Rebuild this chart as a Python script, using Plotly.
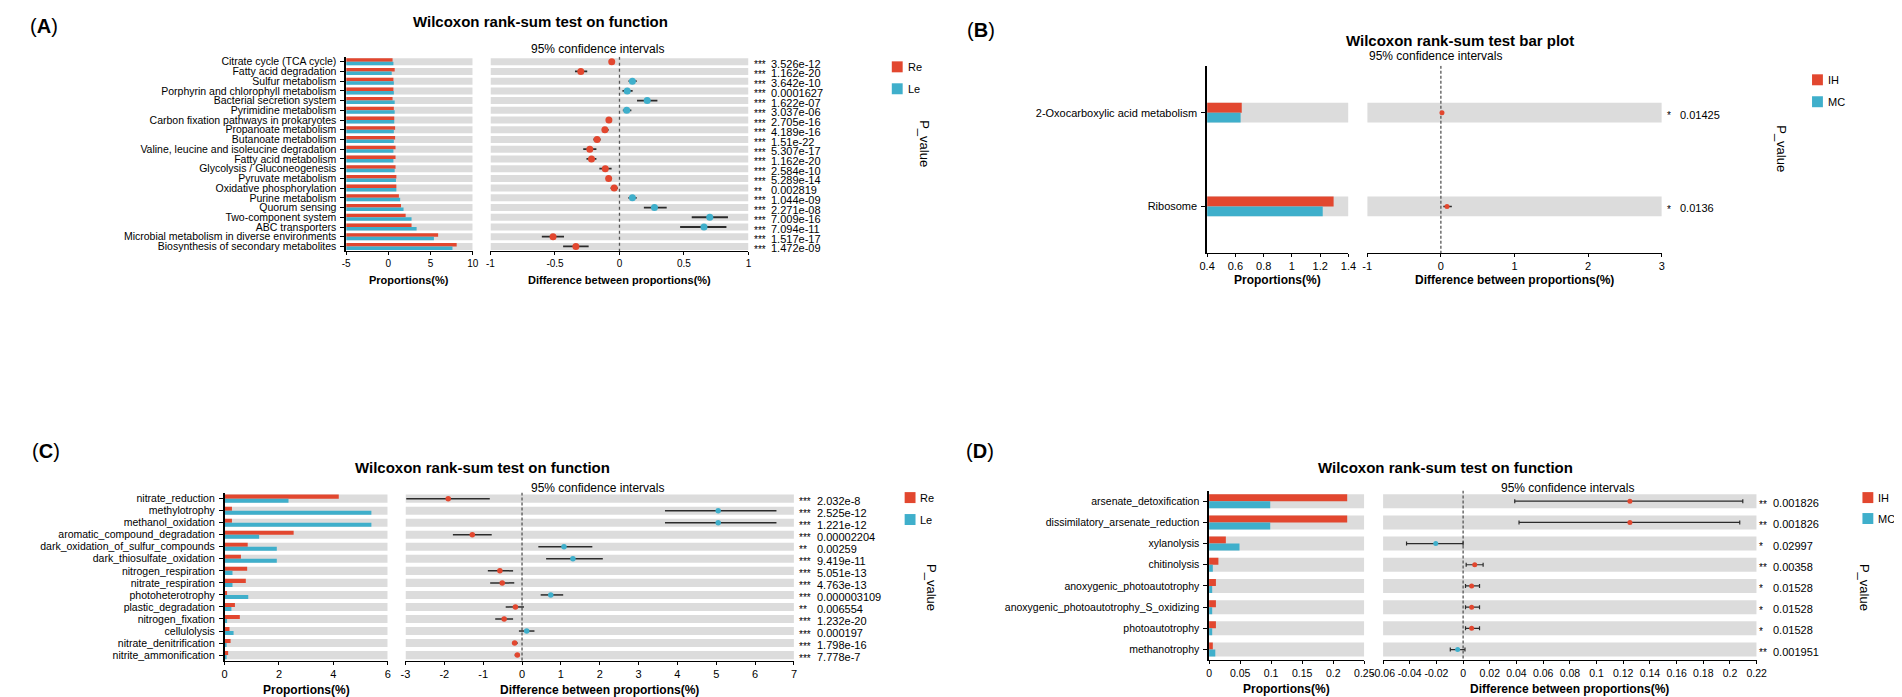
import plotly.graph_objects as go

W, H = 1902, 697
FONT = "Liberation Sans, Arial, Helvetica, sans-serif"
RED = "#E2472F"
TEAL = "#3FAFCB"
BAND = "#DCDCDC"

# ---------------- panel A : Re vs Le, KEGG pathways
a_funcs = ["Citrate cycle (TCA cycle)", "Fatty acid degradation", "Sulfur metabolism",
           "Porphyrin and chlorophyll metabolism", "Bacterial secretion system",
           "Pyrimidine metabolism", "Carbon fixation pathways in prokaryotes",
           "Propanoate metabolism", "Butanoate metabolism",
           "Valine, leucine and isoleucine degradation", "Fatty acid metabolism",
           "Glycolysis / Gluconeogenesis", "Pyruvate metabolism", "Oxidative phosphorylation",
           "Purine metabolism", "Quorum sensing", "Two-component system", "ABC transporters",
           "Microbial metabolism in diverse environments", "Biosynthesis of secondary metabolites"]
a_re = [0.5, 0.75, 0.6, 0.6, 0.5, 0.65, 0.7, 0.8, 0.8, 0.85, 0.85, 0.85, 0.95, 0.95,
        1.25, 1.5, 2.05, 2.75, 5.9, 8.1]
a_le = [0.6, 0.4, 0.65, 0.65, 0.75, 0.75, 0.7, 0.65, 0.65, 0.6, 0.6, 0.75, 0.9, 0.95,
        1.4, 1.8, 2.75, 3.35, 5.4, 7.6]
a_diff = [-0.06, -0.3, 0.1, 0.06, 0.215, 0.056, -0.082, -0.113, -0.174, -0.23, -0.217,
          -0.11, -0.084, -0.041, 0.1, 0.271, 0.7, 0.655, -0.515, -0.338]
a_lo = [-0.07, -0.345, 0.07, 0.023, 0.136, 0.026, -0.097, -0.136, -0.202, -0.281, -0.256,
        -0.156, -0.105, -0.069, 0.069, 0.189, 0.56, 0.47, -0.602, -0.437]
a_hi = [-0.05, -0.25, 0.133, 0.102, 0.294, 0.092, -0.066, -0.084, -0.146, -0.179, -0.179,
        -0.061, -0.064, -0.013, 0.133, 0.366, 0.841, 0.829, -0.43, -0.239]
a_stars = ["***"] * 13 + ["**"] + ["***"] * 6
a_p = ["3.526e-12", "1.162e-20", "3.642e-10", "0.0001627", "1.622e-07", "3.037e-06",
       "2.705e-16", "4.189e-16", "1.51e-22", "5.307e-17", "1.162e-20", "2.584e-10",
       "5.289e-14", "0.002819", "1.044e-09", "2.271e-08", "7.009e-16", "7.094e-11",
       "1.517e-17", "1.472e-09"]

# ---------------- panel B : IH vs MC
b_funcs = ["2-Oxocarboxylic acid metabolism", "Ribosome"]
b_ih = [0.645, 1.295]
b_mc = [0.637, 1.218]
b_diff = [0.015, 0.083]
b_lo = [0.005, 0.033]
b_hi = [0.025, 0.149]
b_stars = ["*", "*"]
b_p = ["0.01425", "0.0136"]

# ---------------- panel C : Re vs Le, FAPROTAX functions
c_funcs = ["nitrate_reduction", "methylotrophy", "methanol_oxidation",
           "aromatic_compound_degradation", "dark_oxidation_of_sulfur_compounds",
           "dark_thiosulfate_oxidation", "nitrogen_respiration", "nitrate_respiration",
           "photoheterotrophy", "plastic_degradation", "nitrogen_fixation", "cellulolysis",
           "nitrate_denitrification", "nitrite_ammonification"]
c_re = [4.2, 0.27, 0.27, 2.54, 0.85, 0.6, 0.83, 0.78, 0.09, 0.38, 0.56, 0.18, 0.22, 0.13]
c_le = [2.35, 5.4, 5.4, 1.27, 1.92, 1.92, 0.29, 0.29, 0.87, 0.25, 0.09, 0.33, 0.07, 0.04]
c_diff = [-1.9, 5.05, 5.05, -1.28, 1.08, 1.31, -0.57, -0.51, 0.74, -0.17, -0.46, 0.12,
          -0.19, -0.12]
c_lo = [-2.98, 3.68, 3.68, -1.78, 0.42, 0.62, -0.88, -0.82, 0.48, -0.42, -0.69, -0.08,
        -0.26, -0.19]
c_hi = [-0.83, 6.55, 6.55, -0.78, 1.81, 2.08, -0.23, -0.2, 1.06, 0.05, -0.23, 0.32,
        -0.11, -0.06]
c_stars = ["***", "***", "***", "***", "**", "***", "***", "***", "***", "**", "***",
           "***", "***", "***"]
c_p = ["2.032e-8", "2.525e-12", "1.221e-12", "0.00002204", "0.00259", "9.419e-11",
       "5.051e-13", "4.763e-13", "0.000003109", "0.006554", "1.232e-20", "0.000197",
       "1.798e-16", "7.778e-7"]

# ---------------- panel D : IH vs MC, FAPROTAX functions
d_funcs = ["arsenate_detoxification", "dissimilatory_arsenate_reduction", "xylanolysis",
           "chitinolysis", "anoxygenic_photoautotrophy",
           "anoxygenic_photoautotrophy_S_oxidizing", "photoautotrophy", "methanotrophy"]
d_ih = [0.2225, 0.2225, 0.027, 0.015, 0.011, 0.011, 0.011, 0.006]
d_mc = [0.0985, 0.0985, 0.049, 0.006, 0.005, 0.005, 0.005, 0.01]
d_diff = [0.125, 0.125, -0.0205, 0.0087, 0.0064, 0.0064, 0.0064, -0.0041]
d_lo = [0.0387, 0.0419, -0.0424, 0.0023, 0.0018, 0.0018, 0.0018, -0.0096]
d_hi = [0.2096, 0.2073, 0.0, 0.015, 0.0123, 0.0123, 0.0123, 0.0014]
d_stars = ["**", "**", "*", "**", "*", "*", "*", "**"]
d_p = ["0.001826", "0.001826", "0.02997", "0.00358", "0.01528", "0.01528", "0.01528",
       "0.001951"]


def px(x):
    return x / W


def py(y):
    return 1 - y / H


def ref(axis, i):
    return axis if i == 1 else f"{axis}{i}"


def lay_key(axis, i):
    return f"{axis}axis" if i == 1 else f"{axis}axis{i}"


fig = go.Figure()
layout = {}
notes = []
shapes = []


def note(x, y, text, size, xanchor="center", yanchor="middle", angle=0,
         xref="paper", yref="paper", yshift=0):
    notes.append(dict(x=px(x) if xref == "paper" else x,
                      y=py(y) if yref == "paper" else y,
                      xref=xref, yref=yref, text=text, showarrow=False,
                      xanchor=xanchor, yanchor=yanchor, textangle=angle, yshift=yshift,
                      font=dict(size=size, color="black", family=FONT)))


def add_panel(k, cats, g1, g2, diff, lo, hi, stars, pvals, names, pos_color, cfg):
    li, ri = 2 * k + 1, 2 * k + 2
    n = len(cats)
    rows = list(range(n))
    xl0, xl1 = cfg["lrange"]
    xr0, xr1 = cfg["rrange"]
    bw = cfg["band"]
    lref = dict(xaxis=ref("x", li), yaxis=ref("y", li))
    rref = dict(xaxis=ref("x", ri), yaxis=ref("y", ri))
    common = dict(orientation="h", hoverinfo="skip", showlegend=False)

    # left: proportions of each group
    fig.add_trace(go.Bar(y=rows, x=[xl1 - xl0] * n, base=xl0, width=bw, offset=-bw / 2,
                         marker=dict(color=BAND, line_width=0), **common, **lref))
    fig.add_trace(go.Bar(y=rows, x=[v - xl0 for v in g1], base=xl0, width=bw / 2,
                         offset=-bw / 2, marker=dict(color=RED, line_width=0),
                         name=names[0], **common, **lref))
    fig.add_trace(go.Bar(y=rows, x=[v - xl0 for v in g2], base=xl0, width=bw / 2,
                         offset=0, marker=dict(color=TEAL, line_width=0),
                         name=names[1], **common, **lref))

    # right: difference with 95% CI
    fig.add_trace(go.Bar(y=rows, x=[xr1 - xr0] * n, base=xr0, width=bw, offset=-bw / 2,
                         marker=dict(color=BAND, line_width=0), **common, **rref))
    fig.add_trace(go.Scatter(x=[0, 0], y=[-0.5, n - 0.5], mode="lines", hoverinfo="skip",
                             line=dict(color="#555555", width=1.3, dash=cfg["dash"]),
                             showlegend=False, **rref))
    neg_color = TEAL if pos_color == RED else RED
    colors = [pos_color if d > 0 else neg_color for d in diff]
    fig.add_trace(go.Scatter(
        x=diff, y=rows, mode="markers", hoverinfo="skip", showlegend=False,
        marker=dict(color=colors, size=cfg["dot"], line_width=0),
        error_x=dict(type="data", symmetric=False,
                     array=[h - d for d, h in zip(diff, hi)],
                     arrayminus=[d - l for d, l in zip(diff, lo)],
                     color="#2b2b2b", thickness=cfg["ebw"], width=cfg["cap"]),
        **rref))

    dom_y = [py(cfg["bottom"]), py(cfg["top"])]
    tfont = dict(size=cfg["tick"], color="black", family=FONT)
    xcommon = dict(ticks="outside", ticklen=3, tickcolor="black", showline=True,
                   linecolor="black", linewidth=1, showgrid=False, zeroline=False,
                   tickfont=tfont, fixedrange=True)
    layout[lay_key("x", li)] = dict(domain=[px(cfg["lpx"][0]), px(cfg["lpx"][1])],
                                    anchor=ref("y", li), range=[xl0, xl1],
                                    tickvals=cfg["lticks"],
                                    ticktext=[f"{v:g}" for v in cfg["lticks"]], **xcommon)
    layout[lay_key("x", ri)] = dict(domain=[px(cfg["rpx"][0]), px(cfg["rpx"][1])],
                                    anchor=ref("y", ri), range=[xr0, xr1],
                                    tickvals=cfg["rticks"],
                                    ticktext=[f"{v:g}" for v in cfg["rticks"]], **xcommon)
    layout[lay_key("y", li)] = dict(domain=dom_y, anchor=ref("x", li), range=[n - 0.5, -0.5],
                                    tickvals=rows, ticktext=cats, ticks="outside", ticklen=4,
                                    tickcolor="black", showline=True, linecolor="black",
                                    linewidth=1.5, showgrid=False, zeroline=False,
                                    ticklabelstandoff=2,
                                    tickfont=dict(size=cfg["label"], color="black",
                                                  family=FONT), fixedrange=True)
    layout[lay_key("y", ri)] = dict(domain=dom_y, anchor=ref("x", ri), range=[n - 0.5, -0.5],
                                    visible=False, fixedrange=True)

    # texts
    lx, ly = cfg["label_xy"]
    note(lx, ly, f"(<b>{cfg['tag']}</b>)", 20, xanchor="left")
    note(cfg["title_xy"][0], cfg["title_xy"][1], f"<b>{cfg['title']}</b>", 15)
    note(cfg["ci_xy"][0], cfg["ci_xy"][1], "95% confidence intervals", 12)
    axis_y = cfg["axis_title_y"]
    note(sum(cfg["lpx"]) / 2, axis_y, "<b>Proportions(%)</b>", cfg["axis_title"])
    note(sum(cfg["rpx"]) / 2, axis_y, "<b>Difference between proportions(%)</b>",
         cfg["axis_title"])
    for r, s, p in zip(rows, stars, pvals):
        note(cfg["star_x"], r, s, cfg["pfont"] - 1, xanchor="left", yref=ref("y", ri),
             yshift=-3)
        note(cfg["p_x"], r, p, cfg["pfont"], xanchor="left", yref=ref("y", ri), yshift=-2)
    # legend keys
    for name, color, yk in zip(names, [RED, TEAL], cfg["legend_y"]):
        x0 = cfg["legend_x"]
        shapes.append(dict(type="rect", xref="paper", yref="paper",
                           x0=px(x0), x1=px(x0 + 11), y0=py(yk + 5.5), y1=py(yk - 5.5),
                           fillcolor=color, line_width=0))
        note(x0 + 14, yk, name, 11, xanchor="left")
    note(cfg["pv_xy"][0], cfg["pv_xy"][1], "P_value", 13, angle=90)


cfg_a = dict(tag="A", title="Wilcoxon rank-sum test on function", label_xy=(8, 17),
             title_xy=(527, 13), ci_xy=(584, 40), lpx=(330, 458), rpx=(476, 737),
             top=48, bottom=243, lrange=(-5, 10), rrange=(-1, 1),
             lticks=[-5, 0, 5, 10], rticks=[-1, -0.5, 0, 0.5, 1], band=0.72, dot=7,
             ebw=1.8, cap=0, dash="dot", tick=10, label=10.5, axis_title=11,
             axis_title_y=272, star_x=741, p_x=758, pfont=11, legend_x=882,
             legend_y=(58, 80), pv_xy=(915, 135))
cfg_b = dict(tag="B", title="Wilcoxon rank-sum test bar plot", label_xy=(956, 21),
             title_xy=(1457, 32), ci_xy=(1432, 47), lpx=(1201, 1344), rpx=(1363, 1661),
             top=57, bottom=245, lrange=(0.4, 1.4), rrange=(-1, 3),
             lticks=[0.4, 0.6, 0.8, 1, 1.2, 1.4], rticks=[-1, 0, 1, 2, 3], band=0.21,
             dot=5, ebw=1.5, cap=0, dash="3px,2px", tick=11, label=11, axis_title=12,
             axis_title_y=272, star_x=1664, p_x=1677, pfont=11, legend_x=1813,
             legend_y=(71, 93), pv_xy=(1782, 140))
cfg_c = dict(tag="C", title="Wilcoxon rank-sum test on function", label_xy=(10, 443),
             title_xy=(468, 460), ci_xy=(584, 480), lpx=(207, 372), rpx=(390, 783),
             top=485, bottom=654, lrange=(0, 6), rrange=(-3, 7),
             lticks=[0, 2, 4, 6], rticks=list(range(-3, 8)), band=0.67, dot=5.5,
             ebw=1.5, cap=0, dash="3px,2px", tick=11, label=10.5, axis_title=12,
             axis_title_y=683, star_x=786, p_x=804, pfont=11, legend_x=895,
             legend_y=(490, 512), pv_xy=(922, 580))
cfg_d = dict(tag="D", title="Wilcoxon rank-sum test on function", label_xy=(955, 443),
             title_xy=(1442, 460), ci_xy=(1566, 480), lpx=(1203, 1360), rpx=(1379, 1757),
             top=483, bottom=653, lrange=(0, 0.25), rrange=(-0.06, 0.22),
             lticks=[0, 0.05, 0.1, 0.15, 0.2, 0.25],
             rticks=[round(-0.06 + 0.02 * i, 2) for i in range(15)], band=0.66, dot=5,
             ebw=1.2, cap=2, dash="3px,2px", tick=10.5, label=10.5, axis_title=12,
             axis_title_y=682, star_x=1757, p_x=1771, pfont=11, legend_x=1864,
             legend_y=(490, 511), pv_xy=(1866, 580))

add_panel(0, a_funcs, a_re, a_le, a_diff, a_lo, a_hi, a_stars, a_p, ["Re", "Le"], TEAL, cfg_a)
add_panel(1, b_funcs, b_ih, b_mc, b_diff, b_lo, b_hi, b_stars, b_p, ["IH", "MC"], RED, cfg_b)
add_panel(2, c_funcs, c_re, c_le, c_diff, c_lo, c_hi, c_stars, c_p, ["Re", "Le"], TEAL, cfg_c)
add_panel(3, d_funcs, d_ih, d_mc, d_diff, d_lo, d_hi, d_stars, d_p, ["IH", "MC"], RED, cfg_d)

fig.update_layout(width=W, height=H, margin=dict(l=0, r=0, t=0, b=0),
                  paper_bgcolor="white", plot_bgcolor="white", barmode="overlay",
                  showlegend=False, hovermode=False, font=dict(family=FONT, color="black"),
                  annotations=notes, shapes=shapes, **layout)

fig.write_html("out.html")
